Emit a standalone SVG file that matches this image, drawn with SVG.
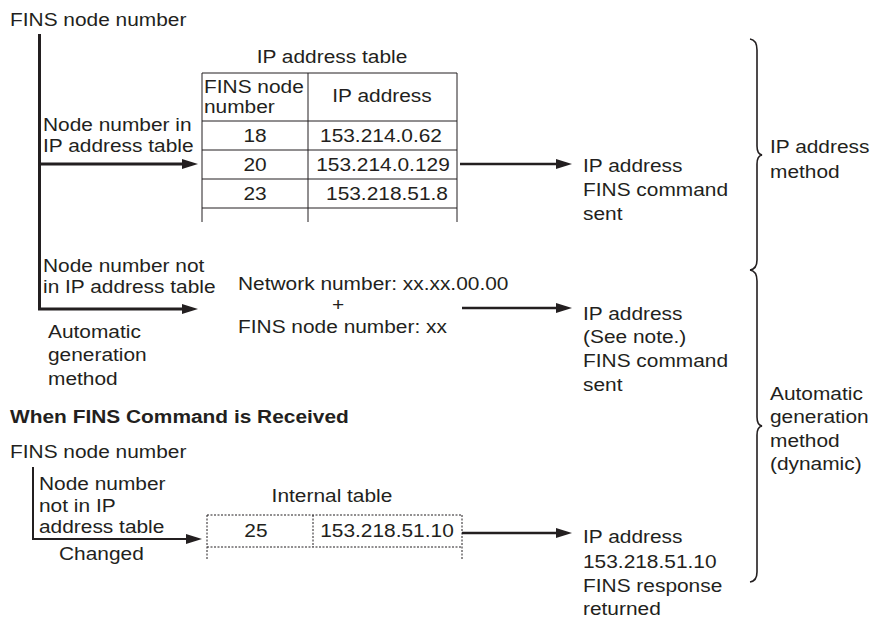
<svg xmlns="http://www.w3.org/2000/svg" width="874" height="617" viewBox="0 0 874 617">
<style>
.t{font-family:"Liberation Sans",Arial,Helvetica,sans-serif;font-size:18.5px;fill:#231f20;transform-box:fill-box;transform-origin:0 0;transform:scaleX(1.13);}
.m{text-anchor:middle;transform-origin:50% 0;}
.b{font-weight:bold;}
.grid{stroke:#231f20;stroke-width:1;fill:none;}
.dash{stroke:#231f20;stroke-width:1;fill:none;stroke-dasharray:2 1.5;}
.thick{stroke:#231f20;stroke-width:3;fill:none;}
.arr{stroke:#231f20;stroke-width:2.5;fill:none;}
.thin{stroke:#231f20;stroke-width:2;fill:none;}
.brace{stroke:#231f20;stroke-width:1.6;fill:none;}
</style>
<defs>
<marker id="ah" markerUnits="userSpaceOnUse" markerWidth="16" markerHeight="10" refX="6" refY="5" orient="auto">
<path d="M0,0 L16,5 L0,10 Z" fill="#231f20"/>
</marker>
</defs>
<rect width="874" height="617" fill="#fff"/>

<g id="connectors">
<path class="thick" d="M39.5,34 V309 H188" marker-end="url(#ah)"/>
<path class="thick" d="M39.5,164 H188" marker-end="url(#ah)"/>
<path class="arr" d="M460,164 H562" marker-end="url(#ah)"/>
<path class="arr" d="M462,308 H562" marker-end="url(#ah)"/>
<path class="thin" d="M33,467 V539 H192" marker-end="url(#ah)"/>
<path class="arr" d="M462,533 H562" marker-end="url(#ah)"/>
</g>

<g id="source-top">
<text class="t" x="10" y="26">FINS node number</text>
</g>

<g id="label-in-table">
<text class="t" x="43" y="131">Node number in</text>
<text class="t" x="43" y="152">IP address table</text>
</g>

<g id="ip-address-table">
<text class="t m" x="332" y="63">IP address table</text>
<path class="grid" d="M202,73 H457 M202,121 H457 M202,150 H457 M202,179 H457 M202,208 H457 M202,73 V222 M308,73 V222 M457,73 V222"/>
<text class="t" x="204" y="93">FINS node</text>
<text class="t" x="204" y="113">number</text>
<text class="t m" x="382" y="102">IP address</text>
<text class="t m" x="255" y="142">18</text>
<text class="t m" x="381" y="142">153.214.0.62</text>
<text class="t m" x="255" y="171">20</text>
<text class="t m" x="383" y="171">153.214.0.129</text>
<text class="t m" x="255" y="200">23</text>
<text class="t m" x="387" y="200">153.218.51.8</text>
</g>

<g id="result-ip-method">
<text class="t" x="583" y="172.5">IP address</text>
<text class="t" x="583" y="196.5">FINS command</text>
<text class="t" x="583" y="220.5">sent</text>
</g>

<g id="label-not-in-table">
<text class="t" x="43" y="272">Node number not</text>
<text class="t" x="43" y="293">in IP address table</text>
</g>

<g id="label-auto-gen">
<text class="t" x="48" y="338">Automatic</text>
<text class="t" x="48" y="361">generation</text>
<text class="t" x="48" y="385">method</text>
</g>

<g id="network-formula">
<text class="t" x="238" y="290">Network number: xx.xx.00.00</text>
<text class="t m" x="338" y="311">+</text>
<text class="t" x="238" y="333">FINS node number: xx</text>
</g>

<g id="result-auto">
<text class="t" x="583" y="320">IP address</text>
<text class="t" x="583" y="343.5">(See note.)</text>
<text class="t" x="583" y="367">FINS command</text>
<text class="t" x="583" y="391">sent</text>
</g>

<g id="heading-received">
<text class="t b" x="10" y="423">When FINS Command is Received</text>
</g>

<g id="source-bottom">
<text class="t" x="10" y="458">FINS node number</text>
</g>

<g id="label-changed">
<text class="t" x="39" y="490">Node number</text>
<text class="t" x="39" y="512">not in IP</text>
<text class="t" x="39" y="533">address table</text>
<text class="t" x="59" y="560">Changed</text>
</g>

<g id="internal-table">
<text class="t m" x="332" y="502">Internal table</text>
<path class="dash" d="M207,515 H462 M207,547 H462 M207,515 V560 M462,515 V560 M313,515 V547"/>
<text class="t m" x="256" y="537">25</text>
<text class="t m" x="387" y="537">153.218.51.10</text>
</g>

<g id="result-response">
<text class="t" x="583" y="543">IP address</text>
<text class="t" x="583" y="568">153.218.51.10</text>
<text class="t" x="583" y="592">FINS response</text>
<text class="t" x="583" y="615">returned</text>
</g>

<g id="brace-ip-method">
<path class="brace" d="M750,39 Q757,40 757,50 V146 Q757,154 762,155 Q757,156 757,164 V260 Q757,269 750,270"/>
<text class="t" x="770" y="153">IP address</text>
<text class="t" x="770" y="178">method</text>
</g>

<g id="brace-auto-method">
<path class="brace" d="M750,270 Q757,271 757,281 V417 Q757,425 762,426 Q757,427 757,435 V572 Q757,581 750,582"/>
<text class="t" x="770" y="400">Automatic</text>
<text class="t" x="770" y="423">generation</text>
<text class="t" x="770" y="447">method</text>
<text class="t" x="770" y="470">(dynamic)</text>
</g>
</svg>
